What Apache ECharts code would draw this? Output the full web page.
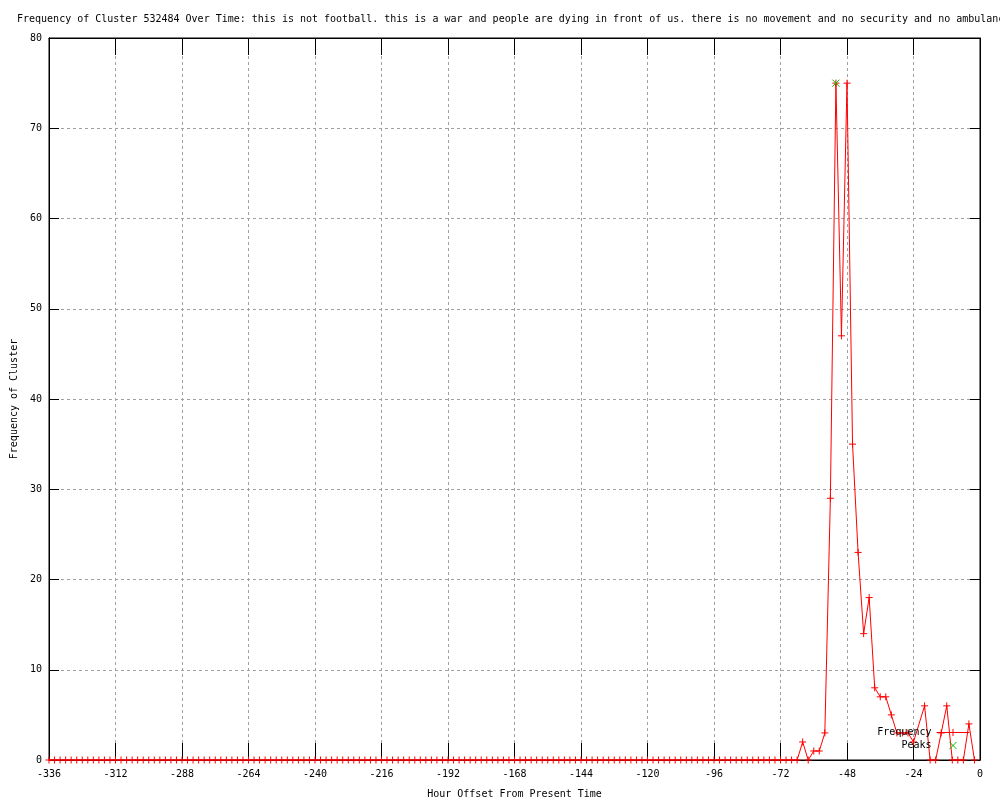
<!DOCTYPE html>
<html>
<head>
<meta charset="utf-8">
<script src="https://cdn.jsdelivr.net/npm/echarts@6/dist/echarts.min.js"></script>
<style>
html,body{margin:0;padding:0;background:#fff;}
#chart{width:1000px;height:800px;}
</style>
</head>
<body>
<div id="chart"></div>
<script>
var titleText = "Frequency of Cluster 532484 Over Time: this is not football. this is a war and people are dying in front of us. there is no movement and no security and no ambulanc";
var xAxisName = "Hour Offset From Present Time";
var yAxisName = "Frequency of Cluster";

var hours = [
  -336,-334,-332,-330,-328,-326,-324,-322,-320,-318,-316,-314,
  -312,-310,-308,-306,-304,-302,-300,-298,-296,-294,-292,-290,
  -288,-286,-284,-282,-280,-278,-276,-274,-272,-270,-268,-266,
  -264,-262,-260,-258,-256,-254,-252,-250,-248,-246,-244,-242,
  -240,-238,-236,-234,-232,-230,-228,-226,-224,-222,-220,-218,
  -216,-214,-212,-210,-208,-206,-204,-202,-200,-198,-196,-194,
  -192,-190,-188,-186,-184,-182,-180,-178,-176,-174,-172,-170,
  -168,-166,-164,-162,-160,-158,-156,-154,-152,-150,-148,-146,
  -144,-142,-140,-138,-136,-134,-132,-130,-128,-126,-124,-122,
  -120,-118,-116,-114,-112,-110,-108,-106,-104,-102,-100,-98,
  -96,-94,-92,-90,-88,-86,-84,-82,-80,-78,-76,-74,
  -72,-70,-68,-66,
  -64,-62,-60,-58,-56,-54,-52,-50,-48,-46,-44,-42,-40,-38,-36,-34,-32,-30,-28,-26,-24,
  -20,-18,-16,-14,-12,-10,-8,-6,-4,-2
];
var frequency = [
  0,0,0,0,0,0,0,0,0,0,0,0,
  0,0,0,0,0,0,0,0,0,0,0,0,
  0,0,0,0,0,0,0,0,0,0,0,0,
  0,0,0,0,0,0,0,0,0,0,0,0,
  0,0,0,0,0,0,0,0,0,0,0,0,
  0,0,0,0,0,0,0,0,0,0,0,0,
  0,0,0,0,0,0,0,0,0,0,0,0,
  0,0,0,0,0,0,0,0,0,0,0,0,
  0,0,0,0,0,0,0,0,0,0,0,0,
  0,0,0,0,0,0,0,0,0,0,0,0,
  0,0,0,0,0,0,0,0,0,0,0,0,
  0,0,0,0,
  2,0,1,1,3,29,75,47,75,35,23,14,18,8,7,7,5,3,3,3,2,
  6,0,0,3,6,0,0,0,4,0
];
var peakHours = [-52];
var peakValues = [75];

var FONT = "'DejaVu Sans Mono', 'Liberation Mono', monospace";
var PLUS = 'path://M0,5L10,5M5,0L5,10';
var CROSS = 'path://M0,0L10,10M10,0L0,10';
var RED = '#ff0000';
var GREEN = '#00c000';

var freqData = hours.map(function (h, i) { return [h, frequency[i]]; });
var peakData = peakHours.map(function (h, i) { return [h, peakValues[i]]; });

var chart = echarts.init(document.getElementById('chart'), null, {renderer: 'canvas'});
var gridSplit = {show: true, lineStyle: {color: '#a0a0a0', type: [3, 3], width: 1}};
var labelStyle = {color: '#000', fontFamily: FONT, fontSize: 10};

chart.setOption({
  animation: false,
  backgroundColor: '#fff',
  title: {
    text: titleText,
    left: 17,
    top: 14,
    padding: 0,
    textStyle: {color: '#000', fontFamily: FONT, fontSize: 10, fontWeight: 'normal'}
  },
  legend: {
    orient: 'vertical',
    align: 'right',
    right: 30,
    top: 726,
    padding: 0,
    itemGap: 0,
    itemWidth: 33,
    itemHeight: 9,
    textStyle: {color: '#000', fontFamily: FONT, fontSize: 10, lineHeight: 13},
    data: [
      {name: 'Frequency',
       itemStyle: {color: RED, borderColor: RED, borderWidth: 1},
       lineStyle: {color: RED, width: 1}},
      {name: 'Peaks',
       itemStyle: {color: GREEN, borderColor: GREEN, borderWidth: 1},
       lineStyle: {opacity: 0, width: 0}}
    ]
  },
  grid: {
    left: 49, right: 20, top: 38, bottom: 40,
    outerBoundsMode: 'none',
    containLabel: false,
    show: true, borderColor: '#000', borderWidth: 1, backgroundColor: 'transparent'
  },
  xAxis: [{
    type: 'value', min: -336, max: 0, interval: 24, position: 'bottom',
    name: xAxisName, nameLocation: 'middle', nameGap: 29,
    nameTextStyle: labelStyle,
    axisLine: {show: true, onZero: false, lineStyle: {color: '#000', width: 1}},
    axisTick: {show: true, inside: true, length: 17, lineStyle: {color: '#000'}},
    axisLabel: {color: '#000', fontFamily: FONT, fontSize: 10, margin: 9},
    splitLine: gridSplit
  }, {
    type: 'value', min: -336, max: 0, interval: 24, position: 'top',
    axisLine: {show: true, onZero: false, lineStyle: {color: '#000', width: 1}},
    axisTick: {show: true, inside: true, length: 17, lineStyle: {color: '#000'}},
    axisLabel: {show: false},
    splitLine: {show: false}
  }],
  yAxis: [{
    type: 'value', min: 0, max: 80, interval: 10, position: 'left',
    name: yAxisName, nameLocation: 'middle', nameGap: 30,
    nameTextStyle: labelStyle,
    axisLine: {show: true, onZero: false, lineStyle: {color: '#000', width: 1}},
    axisTick: {show: true, inside: true, length: 10, lineStyle: {color: '#000'}},
    axisLabel: {color: '#000', fontFamily: FONT, fontSize: 10, margin: 7},
    splitLine: gridSplit
  }, {
    type: 'value', min: 0, max: 80, interval: 10, position: 'right',
    axisLine: {show: true, onZero: false, lineStyle: {color: '#000', width: 1}},
    axisTick: {show: true, inside: true, length: 10, lineStyle: {color: '#000'}},
    axisLabel: {show: false},
    splitLine: {show: false}
  }],
  series: [{
    name: 'Frequency',
    type: 'line',
    xAxisIndex: 0, yAxisIndex: 0,
    data: freqData,
    clip: false,
    showAllSymbol: true,
    symbol: PLUS,
    symbolSize: 7,
    color: RED,
    lineStyle: {color: RED, width: 1},
    itemStyle: {color: RED, borderColor: RED, borderWidth: 1},
    z: 2
  }, {
    name: 'Peaks',
    type: 'line',
    xAxisIndex: 0, yAxisIndex: 0,
    data: peakData,
    clip: false,
    showAllSymbol: true,
    symbol: CROSS,
    symbolSize: 7,
    color: GREEN,
    lineStyle: {color: GREEN, width: 0, opacity: 0},
    itemStyle: {color: GREEN, borderColor: GREEN, borderWidth: 1},
    z: 3
  }]
});
</script>
</body>
</html>
